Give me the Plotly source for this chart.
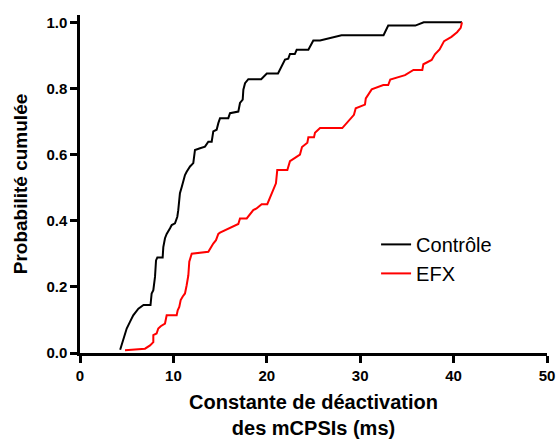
import plotly.graph_objects as go

# Contrôle (black) - cumulative curve
ctrl_x = [4.3, 4.7, 5.0, 5.35, 5.7, 6.25, 6.8, 7.55, 7.67, 7.85, 8.03, 8.14, 8.28, 8.85, 8.92, 9.1,
          9.28, 9.64, 9.82, 10.17, 10.42, 10.52, 10.63, 10.7, 10.9, 11.06, 11.24, 11.42, 11.78, 12.13,
          12.31, 12.85, 13.38, 13.74, 14.1, 14.27, 14.63, 14.81, 14.99, 15.88, 16.06, 16.95, 17.13,
          17.42, 17.49, 17.67, 18.02, 19.4, 20.0, 21.2, 21.95, 22.3, 22.48, 23.0, 23.2, 24.45, 24.98,
          25.7, 28.0, 32.5, 32.8, 33.0, 35.9, 36.8, 40.9]
ctrl_y = [0.01, 0.048, 0.074, 0.094, 0.114, 0.134, 0.145, 0.145, 0.18, 0.19, 0.23, 0.28, 0.289, 0.289,
          0.32, 0.347, 0.36, 0.377, 0.387, 0.392, 0.412, 0.432, 0.463, 0.483, 0.503, 0.523, 0.538,
          0.548, 0.564, 0.574, 0.614, 0.619, 0.624, 0.639, 0.639, 0.67, 0.675, 0.695, 0.71, 0.71,
          0.725, 0.73, 0.756, 0.766, 0.796, 0.816, 0.828, 0.828, 0.845, 0.845, 0.887, 0.89, 0.904,
          0.904, 0.917, 0.917, 0.945, 0.945, 0.961, 0.961, 0.976, 0.99, 0.99, 1.0, 1.0]

# EFX (red)
efx_x = [4.82, 6.96, 7.5, 7.85, 7.85, 8.2, 8.38, 8.64, 9.1, 9.28, 10.35, 10.46, 10.63, 10.78, 11.0,
         11.24, 11.42, 11.6, 11.7, 11.96, 13.74, 13.92, 14.27, 14.56, 14.81, 14.99, 16.95, 17.13,
         17.85, 18.55, 18.9, 19.45, 20.05, 20.98, 21.12, 22.2, 22.48, 23.02, 23.55, 23.77, 24.34,
         24.45, 25.05, 25.16, 25.7, 28.08, 29.33, 29.52, 30.51, 30.6, 31.23, 32.47, 33.0, 33.22,
         34.8, 35.7, 36.65, 36.76, 37.65, 38.0, 38.5, 38.98, 39.77, 40.37, 40.76, 40.9]
efx_y = [0.008, 0.013, 0.023, 0.033, 0.054, 0.059, 0.074, 0.081, 0.089, 0.114, 0.114, 0.129, 0.139,
         0.16, 0.171, 0.18, 0.205, 0.235, 0.276, 0.30, 0.306, 0.316, 0.331, 0.341, 0.36, 0.364, 0.39,
         0.407, 0.407, 0.432, 0.437, 0.45, 0.45, 0.513, 0.553, 0.553, 0.58, 0.59, 0.60, 0.623, 0.636,
         0.652, 0.652, 0.666, 0.68, 0.68, 0.72, 0.74, 0.751, 0.77, 0.797, 0.81, 0.81, 0.827, 0.84,
         0.856, 0.856, 0.873, 0.886, 0.903, 0.918, 0.943, 0.956, 0.97, 0.983, 1.0]

x_ticks = [0, 10, 20, 30, 40, 50]
y_ticks = [0.0, 0.2, 0.4, 0.6, 0.8, 1.0]

FONT = 'Liberation Sans, Arial'

fig = go.Figure()
fig.add_trace(go.Scatter(x=ctrl_x, y=ctrl_y, mode='lines', name='Contrôle',
                         line=dict(color='black', width=2)))
fig.add_trace(go.Scatter(x=efx_x, y=efx_y, mode='lines', name='EFX',
                         line=dict(color='red', width=2)))

tick_font = dict(family=FONT, size=15, color='black')
fig.update_layout(
    width=558, height=439,
    margin=dict(l=80, r=11, t=15, b=86),
    plot_bgcolor='white', paper_bgcolor='white',
    font=dict(family=FONT, color='black'),
    legend=dict(x=0.634, y=0.379, xanchor='left', yanchor='top',
                font=dict(size=20, family=FONT, color='black'),
                bgcolor='rgba(0,0,0,0)', tracegroupgap=0),
    showlegend=True,
)
fig.update_xaxes(range=[0, 50], tickvals=x_ticks, ticktext=['<b>%d</b>' % v for v in x_ticks],
                 showline=True, linecolor='black', linewidth=2.5, ticks='outside', ticklen=7,
                 tickwidth=2.5, tickcolor='black', showgrid=False, zeroline=False,
                 tickfont=tick_font, automargin=False, ticklabeloverflow='allow',
                 title=dict(text='<b>Constante de déactivation<br>des mCPSIs (ms)</b>',
                            font=dict(size=20, family=FONT), standoff=16))
fig.update_yaxes(range=[0, 1.022], tickvals=y_ticks, ticktext=['<b>%.1f</b>' % v for v in y_ticks],
                 showline=True, linecolor='black', linewidth=2.5, ticks='outside', ticklen=7,
                 tickwidth=2.5, tickcolor='black', showgrid=False, zeroline=False,
                 tickfont=tick_font, automargin=False,
                 title=dict(text='<b>Probabilité cumulée</b>',
                            font=dict(size=19, family=FONT), standoff=14))

# drop the default 8px body margin so the figure fills the window exactly
fig.write_html("out.html", config={'displayModeBar': False},
               post_script="document.body.style.margin='0';")
